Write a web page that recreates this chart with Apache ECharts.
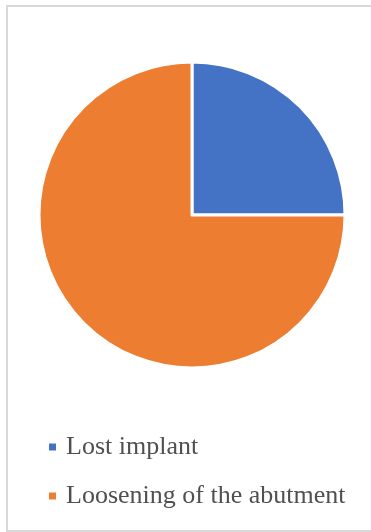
<!DOCTYPE html>
<html><head><meta charset="utf-8">
<script src="https://cdn.jsdelivr.net/npm/echarts@6/dist/echarts.min.js"></script>
<style>html,body{margin:0;padding:0;background:#fff;overflow:hidden}#frame{position:absolute;left:6px;top:5px;width:370px;height:527px;border:2px solid #d9d9d9;box-sizing:border-box}#c{position:absolute;left:0;top:0;width:371px;height:532px}</style>
</head><body><div id="frame"></div><div id="c"></div>
<script>
const categories = ["Lost implant", "Loosening of the abutment"];
const values = [25, 75];
const colors = ["#4472c4", "#ed7d31"];
const chart = echarts.init(document.getElementById('c'), null, {renderer:'canvas'});
chart.setOption({
  animation:false,
  legend:{
    orient:'vertical', left:42, top:429, itemWidth:9, itemHeight:9, itemGap:23,
    icon:'rect',
    textStyle:{fontFamily:'Liberation Serif', fontSize:26, color:'#505050', padding:[0,0,0,4]},
    data:categories
  },
  series:[{
    type:'pie', center:[192,215], radius:153, startAngle:90, clockwise:true,
    label:{show:false}, labelLine:{show:false},
    itemStyle:{borderColor:'#fff', borderWidth:3},
    data:categories.map((n,i)=>({name:n, value:values[i], itemStyle:{color:colors[i]}}))
  }]
});
</script></body></html>
